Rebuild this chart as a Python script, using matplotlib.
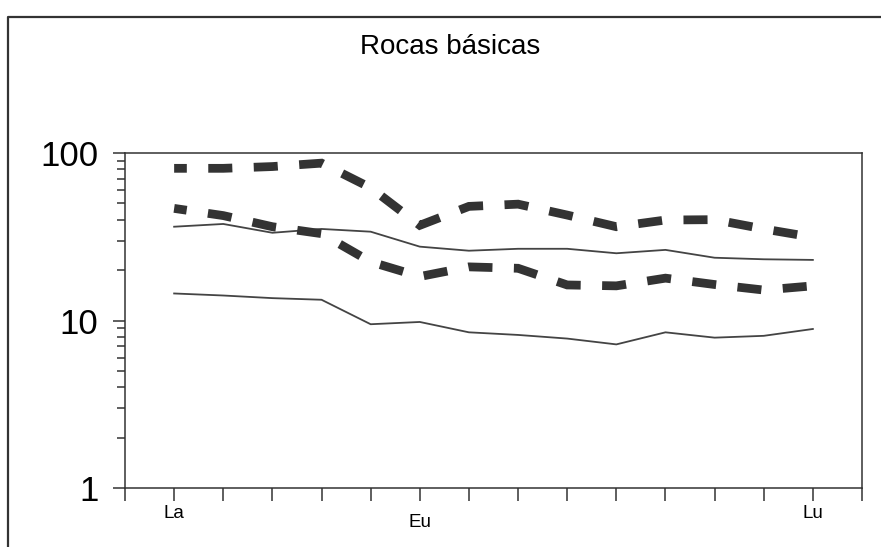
import matplotlib
matplotlib.use("Agg")
import matplotlib.pyplot as plt
from matplotlib.lines import Line2D

plt.rcParams["font.family"] = ["Liberation Sans", "DejaVu Sans"]

# REE elements (chondrite-normalised), 14 positions La..Lu
elements = ["La", "Ce", "Pr", "Nd", "Sm", "Eu", "Gd",
            "Tb", "Dy", "Ho", "Er", "Tm", "Yb", "Lu"]
labelled = {"La": "La", "Lu": "Lu"}

# solid lines
solid_low = [14.5, 14.1, 13.6, 13.3, 9.5, 9.8, 8.5, 8.2, 7.8, 7.2, 8.5, 7.9, 8.1, 8.9]
solid_high = [36.3, 37.7, 33.4, 35.2, 33.9, 27.6, 26.1, 26.8, 26.8, 25.2, 26.4, 23.7, 23.2, 23.0]

# thick dashed lines
dash_high = [81, 81, 83, 87, 62, 37, 48, 49.5, 42.6, 36.3, 39.8, 40, 35.2, 31.4]
dash_low = [46.7, 42.3, 36.3, 33, 22.4, 18.3, 20.9, 20.5, 16.3, 16.1, 17.9, 16.4, 15.2, 16.1]

x = list(range(len(elements)))

fig = plt.figure(figsize=(8.81, 5.47), dpi=100)
ax = fig.add_axes([125 / 881, 1 - 488 / 547, 737 / 881, 335 / 547])

dark = "#333333"
for vals in (solid_low, solid_high):
    ax.plot(x, vals, color="#444444", lw=1.3, solid_joinstyle="round")
for vals in (dash_high, dash_low):
    ax.plot(x, vals, color=dark, lw=6.3,
            linestyle=(1.3, (2.75, 2.45)), dash_capstyle="butt",
            dash_joinstyle="miter")

ax.set_yscale("log")
ax.set_ylim(1, 100)
ax.set_xlim(-1, 14)

# x ticks at every position, labels only on La and Lu; Eu label set lower
ax.set_xticks(range(-1, 15))
ax.set_xticklabels([""] + [labelled.get(e, "") for e in elements] + [""])
ax.xaxis.remove_overlapping_locs = False
ax.set_xticks([5], ["Eu"], minor=True)
ax.tick_params(axis="x", which="major", direction="out", length=9.5,
               width=1.1, color=dark, labelsize=13.5, pad=3)
ax.tick_params(axis="x", which="minor", length=0, labelsize=13.5, pad=18.5)

ax.set_yticks([1, 10, 100], ["1", "10", "100"])
ax.tick_params(axis="y", which="major", direction="out", length=9,
               width=1.1, color=dark, labelsize=25, pad=10)
ax.tick_params(axis="y", which="minor", direction="out", length=6,
               width=1.1, color=dark)
ax.yaxis.set_minor_formatter(plt.NullFormatter())

for sp in ax.spines.values():
    sp.set_linewidth(1.1)
    sp.set_color(dark)

fig.text(450 / 881, 1 - 47 / 547, "Rocas básicas", ha="center", va="center",
         fontsize=20)

# outer frame (left and top edges visible)
fig.add_artist(Line2D([8 / 881, 8 / 881, 1.0], [0.0, 1 - 17 / 547, 1 - 17 / 547],
                      transform=fig.transFigure, color=dark, lw=1.6))

fig.savefig("out.png", dpi=100)
